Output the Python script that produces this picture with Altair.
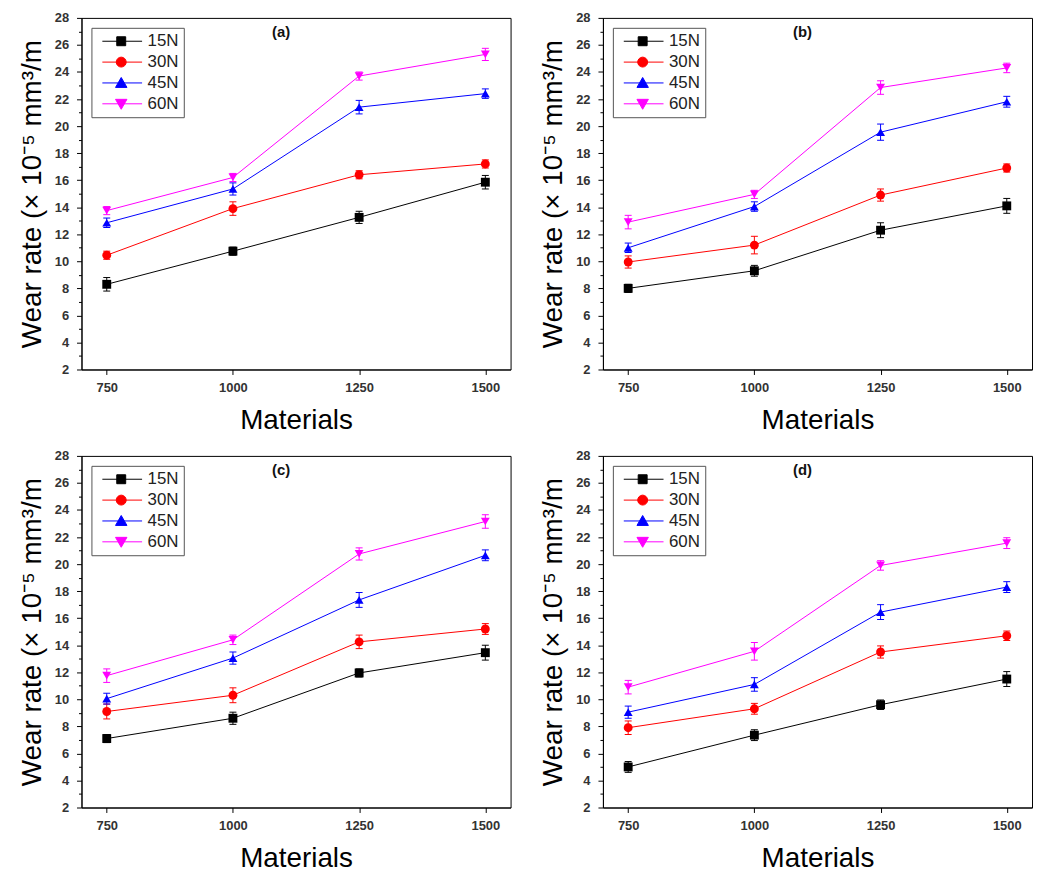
import altair as alt
import pandas as pd

# ---------------- data ----------------
loads = ["15N", "30N", "45N", "60N"]
materials = [750, 1000, 1250, 1500]
panel_labels = ["(a)", "(b)", "(c)", "(d)"]

# wear rate (x 10^-5 mm^3/m), one row per load: 15N, 30N, 45N, 60N
wear_a = [[8.3, 10.75, 13.25, 15.85],
          [10.45, 13.9, 16.4, 17.2],
          [12.85, 15.35, 21.4, 22.4],
          [13.75, 16.2, 23.7, 25.3]]
err_a = [[0.5, 0.3, 0.45, 0.5],
         [0.3, 0.5, 0.3, 0.3],
         [0.35, 0.45, 0.5, 0.35],
         [0.3, 0.3, 0.3, 0.45]]

wear_b = [[8.0, 9.3, 12.3, 14.1],
          [9.95, 11.2, 14.9, 16.9],
          [11.0, 14.05, 19.55, 21.8],
          [12.9, 14.95, 22.85, 24.3]]
err_b = [[0.3, 0.4, 0.55, 0.55],
         [0.45, 0.65, 0.45, 0.3],
         [0.35, 0.35, 0.6, 0.4],
         [0.5, 0.3, 0.5, 0.35]]

wear_c = [[7.1, 8.6, 11.95, 13.45],
          [9.1, 10.3, 14.25, 15.2],
          [10.05, 13.05, 17.35, 20.65],
          [11.75, 14.4, 20.75, 23.15]]
err_c = [[0.3, 0.45, 0.3, 0.55],
         [0.55, 0.55, 0.5, 0.4],
         [0.4, 0.45, 0.55, 0.4],
         [0.5, 0.35, 0.45, 0.5]]

wear_d = [[5.0, 7.35, 9.6, 11.5],
          [7.9, 9.3, 13.5, 14.7],
          [9.05, 11.1, 16.45, 18.3],
          [10.9, 13.55, 19.9, 21.55]]
err_d = [[0.4, 0.4, 0.35, 0.55],
         [0.5, 0.4, 0.45, 0.35],
         [0.45, 0.5, 0.55, 0.4],
         [0.5, 0.65, 0.35, 0.4]]

x_ticks = [750, 1000, 1250, 1500]
y_ticks = list(range(2, 29))

# ---------------- styling ----------------
FONT = "Liberation Sans"
colors = ["#000000", "#ff0000", "#0000ff", "#ff00ff"]
shapes = ["square", "circle", "triangle-up", "triangle-down"]
# legend glyph: short line with the marker on it
legend_paths = [
    "M-3.8,0H4.2M-0.9,-0.9H0.9V0.9H-0.9Z",
    "M-3.8,0H4.2M-1,0A1,1,0,1,1,1,0A1,1,0,1,1,-1,0Z",
    "M-3.8,0H4.2M0,-1.1L1.15,0.9H-1.15Z",
    "M-3.8,0H4.2M0,1.1L1.15,-0.9H-1.15Z",
]
Y_TITLE = "Wear rate (\u00d7 10\u207b\u2075 mm\u00b3/m"
W, H = 432, 354


def case_expr(values):
    expr = "'" + values[-1] + "'"
    for k, v in reversed(list(zip(loads[:-1], values[:-1]))):
        expr = "datum.value === '" + k + "' ? '" + v + "' : (" + expr + ")"
    return expr


xscale = alt.Scale(domain=[700, 1550], nice=False, zero=False)
yscale = alt.Scale(domain=[2, 28], nice=False, zero=False)

xaxis = alt.Axis(title="Materials", values=x_ticks, format="d", tickSize=5,
                 labelPadding=7, titlePadding=12, grid=False, labelFlush=False)
yaxis = alt.Axis(title=Y_TITLE, values=y_ticks,
                 labelExpr="datum.value % 2 == 0 ? datum.label : ''",
                 tickSize={"condition": {"test": "datum.value % 2 == 0", "value": 5}, "value": 3},
                 labelOverlap=False, labelPadding=8, titlePadding=8, grid=False)

color_scale = alt.Scale(domain=loads, range=colors)

legend_def = alt.Legend(
    title=None, orient="top-left", offset=10, padding=5,
    strokeColor="#555", fillColor="white",
    labelFont=FONT, labelFontSize=17, labelColor="#222",
    symbolOffset=16.5, labelOffset=18, rowPadding=3,
    symbolSize=100, symbolStrokeWidth=1,
    symbolType={"expr": case_expr(legend_paths)},
    symbolStrokeColor={"expr": case_expr(colors)},
    symbolFillColor={"expr": case_expr(colors)},
)


def panel(wear, err, label):
    rows = []
    for li, ld in enumerate(loads):
        for mi, m in enumerate(materials):
            rows.append({"load": ld, "material": m, "wear": wear[li][mi], "err": err[li][mi]})
    df = pd.DataFrame(rows)
    base = alt.Chart(df)
    X = alt.X("material:Q", scale=xscale, axis=xaxis)
    Yw = alt.Y("wear:Q", scale=yscale, axis=yaxis)
    col = alt.Color("load:N", scale=color_scale, legend=legend_def)

    # empty layer placed first so the shared legend takes its (filled point) styling
    legend_layer = base.transform_filter("false").mark_point(
        filled=True, size=100, opacity=1, strokeWidth=1
    ).encode(x=X, y=Yw, color=col)

    lines = base.mark_line(strokeWidth=1).encode(x=X, y=Yw, color=col)

    bars = base.transform_calculate(
        lo="datum.wear - datum.err", hi="datum.wear + datum.err"
    ).mark_rule(strokeWidth=1).encode(
        x=X, y=alt.Y("lo:Q", scale=yscale, axis=yaxis), y2="hi:Q", color=col)

    caps = base.transform_calculate(
        lo="datum.wear - datum.err", hi="datum.wear + datum.err"
    ).transform_fold(["lo", "hi"], as_=["end", "val"]).mark_tick(
        orient="horizontal", size=7, thickness=1, opacity=1
    ).encode(x=X, y=alt.Y("val:Q", scale=yscale, axis=yaxis), color=col)

    point_layers = [
        base.transform_filter(alt.datum.load == ld).mark_point(
            filled=True, size=80, opacity=1, shape=shp
        ).encode(x=X, y=Yw, color=col)
        for ld, shp in zip(loads, shapes)
    ]

    tag = alt.Chart(pd.DataFrame({"t": [label]})).mark_text(
        font=FONT, fontWeight="bold", fontSize=15, color="#111"
    ).encode(x=alt.value(201), y=alt.value(14), text="t:N")

    return alt.layer(legend_layer, lines, bars, caps, *point_layers, tag).properties(
        width=W, height=H)


row1 = alt.hconcat(panel(wear_a, err_a, panel_labels[0]),
                   panel(wear_b, err_b, panel_labels[1]),
                   spacing=28).resolve_scale(color="independent")
row2 = alt.hconcat(panel(wear_c, err_c, panel_labels[2]),
                   panel(wear_d, err_d, panel_labels[3]),
                   spacing=28).resolve_scale(color="independent")

chart = alt.vconcat(row1, row2, spacing=14).resolve_scale(
    color="independent"
).properties(
    padding={"left": 10, "top": 0, "right": 0, "bottom": 0},
    background="white",
).configure_view(
    stroke="black", strokeWidth=1
).configure_axis(
    domainColor="black", tickColor="black", domainWidth=1, tickWidth=1,
    labelFont=FONT, labelFontSize=13, labelFontWeight="bold", labelColor="#333",
    titleFont=FONT, titleFontSize=28, titleFontWeight="normal", titleColor="black",
)

chart.save("out.html", embed_options={"renderer": "svg", "actions": False})
